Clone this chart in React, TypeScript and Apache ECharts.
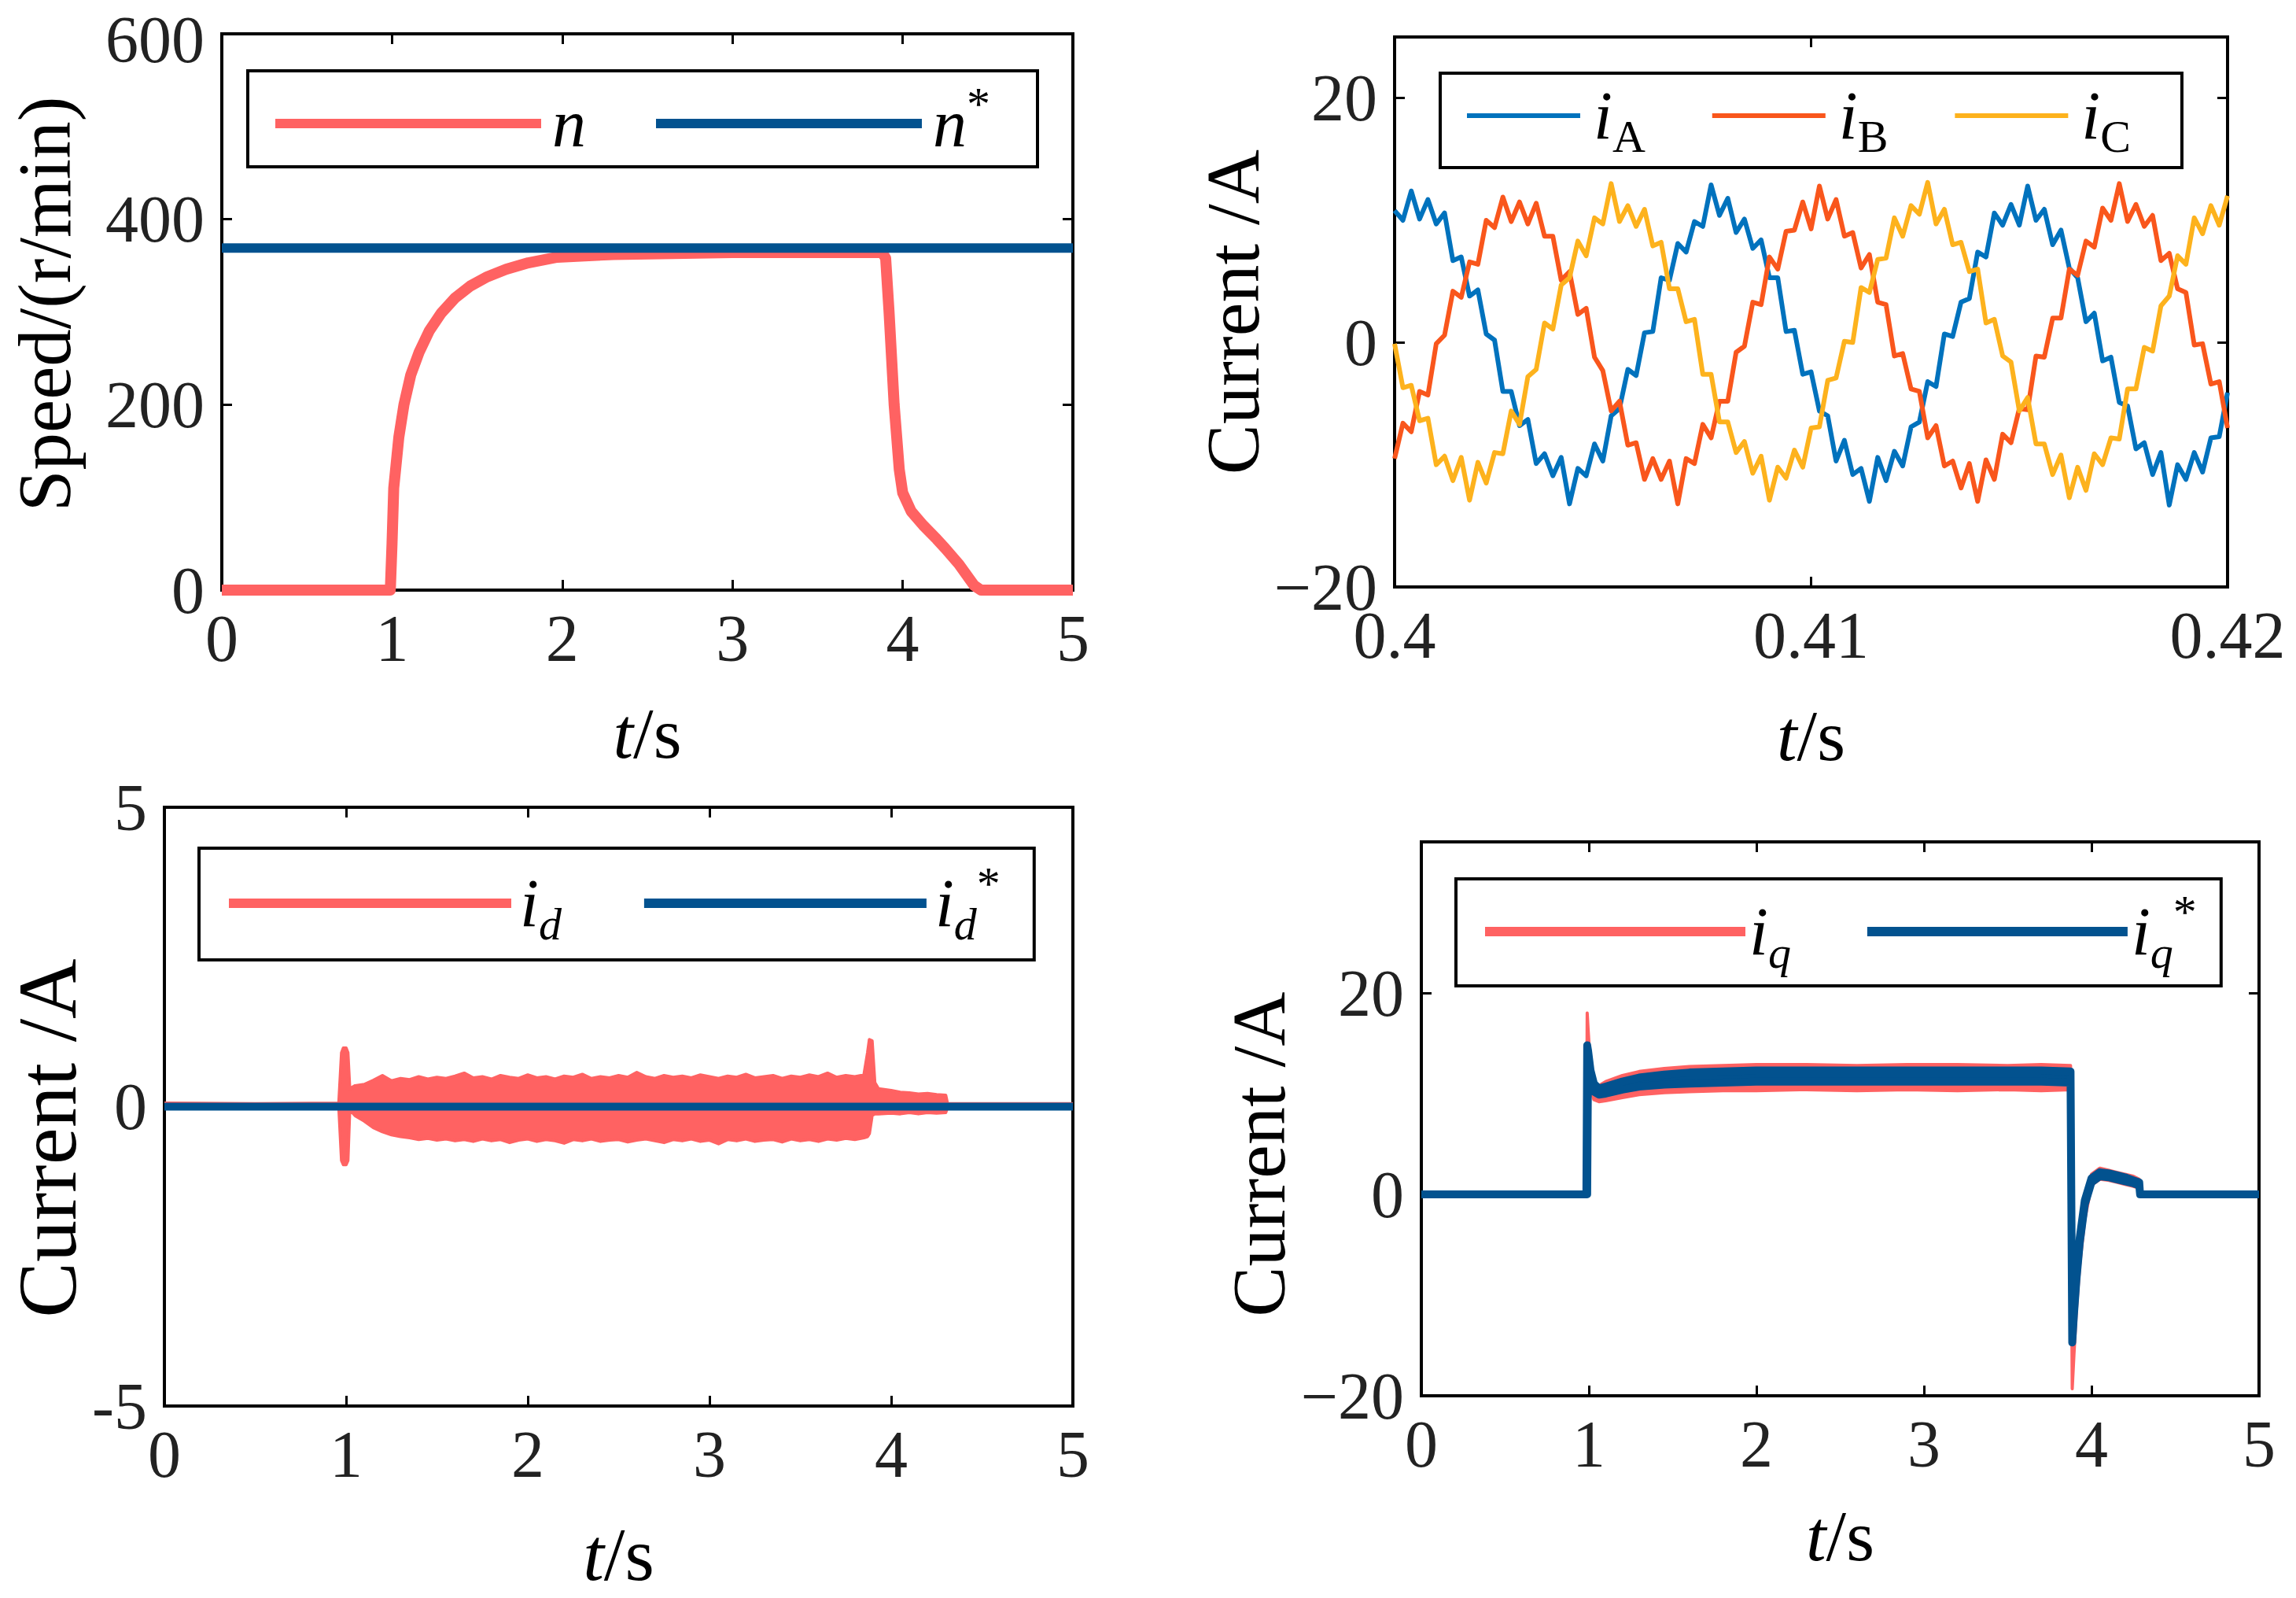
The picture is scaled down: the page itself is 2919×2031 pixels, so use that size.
import React, { useEffect, useRef } from 'react';
import * as echarts from 'echarts';

const FONT = 'Liberation Serif, serif';
const RED = '#FF6262';
const BLUE = '#02528F';
const COL_A = '#0072BD';
const COL_B = '#F9561C';
const COL_C = '#FDB21D';

// ---------- Plot 1: speed ----------
const speedT = [0, 0.5, 0.99, 1.0, 1.01, 1.04, 1.07, 1.11, 1.16, 1.22, 1.29, 1.37, 1.46, 1.56, 1.67, 1.8, 1.97, 2.3, 3.0, 3.5, 3.88, 3.9, 3.92, 3.95, 3.98, 4.0, 4.05, 4.12, 4.2, 4.25, 4.33, 4.42, 4.46, 5.0];
const speedN = [0, 0, 0, 50, 110, 165, 200, 232, 257, 280, 299, 315, 328, 338, 346, 353, 359, 362, 364, 364, 364, 358, 300, 200, 130, 105, 85, 70, 55, 45, 28, 5, 0, 0];
const speedRefT = [0, 5];
const speedRefV = [369, 369];

// ---------- Plot 2: phase currents, 0.4 s .. 0.42 s sampled every 0.2 ms ----------
const abcStart = 0.4;
const abcStep = 0.0002;
const iA = [10.8, 10.0, 12.4, 10.1, 11.7, 9.7, 10.6, 6.7, 7.0, 3.8,
  4.3, 0.7, 0.2, -4.0, -4.0, -6.8, -6.3, -9.9, -9.1, -10.9,
  -9.4, -13.2, -10.3, -10.9, -8.3, -9.7, -6.0, -5.4, -2.2, -2.7,
  0.8, 0.9, 5.3, 5.1, 8.1, 7.4, 9.9, 9.5, 12.9, 10.4,
  11.8, 9.0, 10.1, 7.7, 8.4, 5.3, 5.3, 0.9, 1.0, -2.6,
  -2.4, -5.6, -6.0, -9.7, -8.0, -10.8, -10.3, -13.0, -9.4, -11.3,
  -8.9, -10.1, -6.9, -6.5, -3.2, -3.6, 0.7, 0.5, 3.3, 3.6,
  7.4, 7.0, 10.6, 9.6, 11.3, 9.6, 12.8, 10.0, 10.9, 8.0,
  9.2, 6.1, 5.3, 1.7, 2.4, -1.5, -1.2, -4.9, -5.2, -8.7,
  -8.2, -10.8, -9.0, -13.3, -10.0, -11.2, -9.0, -10.6, -7.8, -7.7,
  -4.1];
const iB = [-9.5, -6.6, -7.3, -4.0, -4.3, -0.1, 0.6, 4.2, 3.7, 6.6,
  6.4, 10.0, 9.4, 11.9, 9.9, 11.5, 9.7, 11.4, 8.7, 8.7,
  5.1, 5.8, 2.3, 2.8, -1.2, -2.3, -5.6, -4.8, -8.4, -8.2,
  -11.2, -9.5, -11.2, -9.7, -13.2, -9.5, -9.9, -6.7, -7.8, -4.8,
  -4.8, -0.8, -0.3, 3.3, 3.1, 7.0, 6.0, 9.1, 9.2, 11.5,
  9.3, 12.8, 10.1, 11.7, 8.7, 9.0, 6.1, 7.2, 3.3, 3.1,
  -1.1, -0.9, -3.8, -4.0, -7.8, -6.8, -10.1, -9.7, -11.9, -9.9,
  -13.0, -9.6, -11.2, -7.5, -8.2, -5.4, -5.5, -1.1, -1.2, 2.0,
  2.0, 6.0, 5.5, 8.3, 7.8, 11.0, 10.0, 13.0, 9.9, 11.3,
  9.5, 10.4, 6.7, 7.3, 4.4, 4.1, -0.2, -0.1, -3.4, -3.2,
  -7.0];
const iC = [-0.1, -3.7, -3.5, -6.4, -6.2, -10.0, -9.3, -11.3, -9.4, -12.9,
  -9.8, -11.5, -9.0, -9.1, -5.6, -6.7, -2.8, -2.2, 1.6, 1.1,
  4.7, 5.3, 8.3, 7.1, 10.2, 9.7, 13.0, 9.9, 11.2, 9.5,
  10.9, 7.9, 8.2, 4.4, 4.4, 1.7, 1.9, -2.6, -2.6, -6.5,
  -6.5, -9.0, -8.1, -10.7, -9.3, -12.9, -10.2, -11.1, -8.8, -10.2,
  -7.0, -6.9, -3.1, -2.9, 0.1, 0.0, 4.5, 4.1, 6.8, 6.9,
  10.2, 8.7, 11.2, 10.5, 13.1, 9.7, 10.9, 8.0, 8.2, 5.8,
  6.0, 1.6, 1.9, -1.1, -1.6, -5.6, -4.5, -8.3, -8.3, -10.8,
  -9.2, -12.7, -10.2, -12.1, -9.1, -10.0, -7.8, -7.9, -3.8, -3.8,
  -0.4, -0.7, 3.0, 3.8, 7.1, 6.4, 10.2, 8.9, 11.2, 9.6,
  12.0];

// ---------- Plot 3: d-axis current (noise envelope) ----------
const idT = [0, 0.5, 0.96, 0.975, 0.985, 1.0, 1.01, 1.02,
  1.05, 1.1, 1.15, 1.2, 1.25, 1.3, 1.35, 1.4, 1.45, 1.5,
  1.55, 1.6, 1.65, 1.7, 1.75, 1.8, 1.85, 1.9, 1.95, 2.0,
  2.05, 2.1, 2.15, 2.2, 2.25, 2.3, 2.35, 2.4, 2.45, 2.5,
  2.55, 2.6, 2.65, 2.7, 2.75, 2.8, 2.85, 2.9, 2.95, 3.0,
  3.05, 3.1, 3.15, 3.2, 3.25, 3.3, 3.35, 3.4, 3.45, 3.5,
  3.55, 3.6, 3.65, 3.7, 3.75, 3.8, 3.85,
  3.87, 3.88, 3.895, 3.91, 3.93,
  4.0, 4.05, 4.1, 4.15, 4.2, 4.25, 4.3,
  4.31, 4.6, 5.0];
const idUp = [0.06, 0.05, 0.06, 0.9, 0.98, 0.98, 0.9, 0.3,
  0.35, 0.37, 0.44, 0.52, 0.43, 0.47, 0.45, 0.5, 0.46, 0.49,
  0.47, 0.51, 0.56, 0.48, 0.5, 0.46, 0.52, 0.49, 0.47, 0.53,
  0.48, 0.5, 0.46, 0.51, 0.49, 0.54, 0.47, 0.5, 0.48, 0.52,
  0.49, 0.57, 0.5, 0.47, 0.52, 0.49, 0.51, 0.48, 0.53, 0.5,
  0.47, 0.51, 0.49, 0.54, 0.48, 0.5, 0.52, 0.47, 0.51, 0.49,
  0.53, 0.5, 0.56, 0.49, 0.52, 0.5, 0.53,
  0.9, 1.12, 1.1, 0.4, 0.3,
  0.27, 0.24, 0.23, 0.21, 0.22, 0.2, 0.19,
  0.05, 0.05, 0.05];
const idLo = [-0.01, -0.01, -0.01, -0.9, -0.97, -0.97, -0.9, -0.05,
  -0.15, -0.24, -0.35, -0.42, -0.47, -0.5, -0.52, -0.55, -0.53, -0.56,
  -0.54, -0.57, -0.55, -0.58, -0.54, -0.57, -0.55, -0.6, -0.56, -0.54,
  -0.58, -0.55, -0.57, -0.61, -0.55, -0.57, -0.54, -0.58, -0.56, -0.55,
  -0.59, -0.56, -0.54, -0.57, -0.6, -0.55, -0.57, -0.54, -0.58, -0.56,
  -0.62, -0.55, -0.57, -0.54, -0.58, -0.56, -0.55, -0.59, -0.54, -0.57,
  -0.55, -0.58, -0.54, -0.56, -0.53, -0.55, -0.52,
  -0.5, -0.45, -0.15, -0.12, -0.12,
  -0.11, -0.12, -0.1, -0.12, -0.1, -0.11, -0.1,
  -0.01, -0.01, -0.01];
const idRefT = [0, 5];
const idRefV = [0, 0];

// ---------- Plot 4: q-axis current (envelopes) ----------
const iqT = [0, 0.985, 0.99, 0.995, 1.01, 1.03, 1.06, 1.1, 1.2, 1.3,
  1.45, 1.6, 1.8, 2.0, 2.3, 2.6, 2.9, 3.2, 3.5, 3.7,
  3.875, 3.885, 3.895, 3.91, 3.93, 3.96, 4.0, 4.05, 4.1, 4.15,
  4.2, 4.25, 4.285, 4.29, 5.0];
const iqLo = [0, 0, 0, 12, 10.5, 9.4, 9.2, 9.3, 9.6, 9.9,
  10.1, 10.2, 10.3, 10.3, 10.4, 10.3, 10.4, 10.3, 10.4, 10.3,
  10.4, -19.3, -16, -11.5, -7, -2.5, 0.9, 1.5, 1.4, 1.2,
  1.0, 0.8, 0.6, 0, 0];
const iqUp = [0, 0, 18.0, 16.5, 12.5, 11.2, 10.8, 11.2, 11.8, 12.2,
  12.5, 12.7, 12.8, 12.9, 12.9, 12.8, 12.9, 12.9, 12.8, 12.9,
  12.8, -14, -10.5, -8, -4.5, -0.5, 2.0, 2.6, 2.4, 2.2,
  2.0, 1.8, 1.5, 0.2, 0];
const iqRefLo = [0, 0, 0, 13, 11.3, 10.2, 9.9, 10.0, 10.4, 10.7,
  10.9, 11.0, 11.1, 11.2, 11.2, 11.2, 11.2, 11.2, 11.2, 11.2,
  11.1, -14.7, -12, -8.5, -4.8, -1.0, 1.2, 1.8, 1.7, 1.5,
  1.3, 1.1, 0.9, 0, 0];
const iqRefUp = [0, 0, 14.8, 14.3, 12.3, 11.0, 10.5, 10.7, 11.2, 11.6,
  11.9, 12.1, 12.2, 12.3, 12.3, 12.3, 12.3, 12.3, 12.3, 12.3,
  12.2, -14.5, -11.5, -8, -4.3, -0.6, 1.6, 2.2, 2.1, 1.9,
  1.7, 1.4, 1.2, 0, 0];

// ---------- axis scales ----------
const p1X = { min: 0, max: 5, interval: 1 };
const p1Y = { min: 0, max: 600, interval: 200 };
const p2X = { min: 0.4, max: 0.42, interval: 0.01 };
const p2Y = { min: -20, max: 25, interval: 20 };
const p3X = { min: 0, max: 5, interval: 1 };
const p3Y = { min: -5, max: 5, interval: 5 };
const p4X = { min: 0, max: 5, interval: 1 };
const p4Y = { min: -20, max: 35, interval: 20 };

const pairs = (xs: number[], ys: number[]) => xs.map((x, i) => [x, ys[i]]);
const triples = (xs: number[], lo: number[], up: number[]) => xs.map((x, i) => [x, lo[i], up[i]]);

const TICK_SIZE = 84;
const isMultiple = (v: number, step: number) => Math.abs(v / step - Math.round(v / step)) < 1e-6;
const TICK = { show: true, inside: true, length: 13, lineStyle: { color: '#000', width: 3 } };

function xAxisBottom(grid: number, sc: any, nameGap: number, nameSize: number, fmt: (v: number) => string) {
  return {
    type: 'value', gridIndex: grid, position: 'bottom', ...sc,
    axisLine: { show: false, onZero: false },
    axisTick: TICK,
    axisLabel: { show: true, margin: 26, fontFamily: FONT, fontSize: TICK_SIZE, lineHeight: 70, color: '#222', formatter: fmt },
    splitLine: { show: false },
    name: '{it|t}/s', nameLocation: 'middle', nameGap,
    nameTextStyle: { fontFamily: FONT, fontSize: nameSize, lineHeight: 80, color: '#000',
      rich: { it: { fontFamily: FONT, fontStyle: 'italic', fontSize: nameSize, lineHeight: 80, color: '#000' } } },
  };
}
function xAxisTop(grid: number, sc: any) {
  return {
    type: 'value', gridIndex: grid, position: 'top', ...sc,
    axisLine: { show: false, onZero: false },
    axisTick: TICK,
    axisLabel: { show: false }, splitLine: { show: false },
  };
}
function yAxisLeft(grid: number, sc: any, name: string, nameGap: number, nameSize: number, pad: number[], fmt: (v: number) => string, extraLabel: any = {}) {
  return {
    type: 'value', gridIndex: grid, position: 'left', ...sc,
    axisLine: { show: false, onZero: false },
    axisTick: TICK,
    axisLabel: { show: true, margin: 22, fontFamily: FONT, fontSize: TICK_SIZE, lineHeight: 70, color: '#222', formatter: fmt, ...extraLabel },
    splitLine: { show: false },
    name, nameLocation: 'middle', nameGap,
    nameTextStyle: { fontFamily: FONT, fontSize: nameSize, color: '#000', padding: pad },
  };
}
function yAxisRight(grid: number, sc: any) {
  return {
    type: 'value', gridIndex: grid, position: 'right', ...sc,
    axisLine: { show: false, onZero: false },
    axisTick: TICK,
    axisLabel: { show: false }, splitLine: { show: false },
  };
}

const plainFmt = (v: number) => String(v);
const p2XFmt = (v: number) => String(+v.toFixed(2));
const minusFmt = (step: number) => (v: number) =>
  isMultiple(v, step) ? (v < 0 ? '\u2212' + String(-v) : String(v)) : '';
const hyphenFmt = (v: number) => (v < 0 ? '-' + String(-v) : String(v));
const p1YFmt = (v: number) => (isMultiple(v, 200) ? String(v) : '');

const LEG_SIZE = 86;
const legendRich = {
  it: { fontFamily: FONT, fontStyle: 'italic', fontSize: LEG_SIZE, lineHeight: 110, color: '#000' },
  sub: { fontFamily: FONT, fontSize: 58, lineHeight: 80, verticalAlign: 'bottom', color: '#000' },
  subit: { fontFamily: FONT, fontStyle: 'italic', fontSize: 58, lineHeight: 80, verticalAlign: 'bottom', color: '#000' },
  sup: { fontFamily: FONT, fontSize: 60, lineHeight: 50, verticalAlign: 'top', color: '#000' },
  sp6: { width: 6, fontSize: 20 },
  sp9: { width: 9, fontSize: 20 },
  sp12: { width: 12, fontSize: 20 },
};
const LEG_TEXT: Record<string, string> = {
  'n': '{sp9| }{it|n}',
  'n*': '{sp9| }{it|n}{sup|*}',
  'iA': '{sp12| }{it|i}{sub|A}',
  'iB': '{sp12| }{it|i}{sub|B}',
  'iC': '{sp12| }{it|i}{sub|C}',
  'id': '{sp6| }{it|i}{subit|d}',
  'id*': '{sp6| }{it|i}{subit|d}{sup|*}',
  'iq': '{it|i}{subit|q}',
  'iq*': '{it|i}{subit|q}{sup|*}',
};

function legend(names: string[], colors: string[], left: number, top: number, itemWidth: number, itemHeight: number, itemGap: number, padding: number[]) {
  return {
    show: true, orient: 'horizontal', left, top, itemWidth, itemHeight, itemGap, padding,
    icon: 'rect', selectedMode: false,
    borderColor: '#000', borderWidth: 4, backgroundColor: '#fff',
    itemStyle: { borderWidth: 0 },
    data: names.map((n, i) => ({ name: n, itemStyle: { color: colors[i], borderWidth: 0 } })),
    formatter: (name: string) => LEG_TEXT[name] || name,
    textStyle: { fontFamily: FONT, fontSize: LEG_SIZE, color: '#000', rich: legendRich },
  };
}

function line(name: string, xi: number, data: any[], color: string, width: number) {
  return {
    type: 'line', name, xAxisIndex: xi, yAxisIndex: xi, data, symbol: 'none', showSymbol: false,
    lineStyle: { color, width, cap: 'butt', join: 'round' }, itemStyle: { color },
    emphasis: { disabled: true }, silent: true,
  };
}

// Envelope band: a polygon between the lower and upper envelope, placed with the axes' own scales.
function band(name: string, xi: number, ts: number[], lo: number[], up: number[], color: string, stroke: number) {
  return {
    type: 'custom', name, xAxisIndex: xi, yAxisIndex: xi, clip: true, silent: true,
    data: triples(ts, lo, up),
    encode: { x: 0, y: [1, 2] },
    itemStyle: { color },
    renderItem: (params: any, api: any) => {
      if (params.dataIndex !== 0) return null;
      const top = ts.map((t, i) => api.coord([t, up[i]]));
      const bottom = ts.map((t, i) => api.coord([t, lo[i]])).reverse();
      return {
        type: 'polygon',
        shape: { points: top.concat(bottom) },
        style: { fill: color, stroke: color, lineWidth: stroke, lineJoin: 'round' },
      };
    },
  };
}

const abcT = iA.map((_, k) => +(abcStart + k * abcStep).toFixed(4));

const option: any = {
  animation: false,
  backgroundColor: '#fff',
  grid: [
    { left: 282, top: 43, width: 1082, height: 707 },
    { left: 1773, top: 47, width: 1059, height: 699 },
    { left: 209, top: 1026, width: 1155, height: 761 },
    { left: 1807, top: 1070, width: 1065, height: 704 },
  ].map((g) => ({ ...g, show: true, borderColor: '#000', borderWidth: 4, backgroundColor: 'transparent', containLabel: false })),
  xAxis: [
    xAxisBottom(0, p1X, 142, 92, plainFmt),
    xAxisBottom(1, p2X, 149, 92, p2XFmt),
    xAxisBottom(2, p3X, 148, 96, plainFmt),
    xAxisBottom(3, p4X, 138, 92, plainFmt),
    xAxisTop(0, p1X), xAxisTop(1, p2X), xAxisTop(2, p3X), xAxisTop(3, p4X),
  ],
  yAxis: [
    yAxisLeft(0, p1Y, 'Speed/(r/min)', 178, 95, [0, 0, 0, 20], p1YFmt, { lineHeight: 14, verticalAlignMaxLabel: 'top' }),
    yAxisLeft(1, p2Y, 'Current /A', 118, 96, [0, 0, 0, 0], minusFmt(20)),
    yAxisLeft(2, p3Y, 'Current /A', 85, 106, [0, 80, 0, 0], hyphenFmt),
    yAxisLeft(3, p4Y, 'Current /A', 159, 96, [0, 90, 0, 0], minusFmt(20)),
    yAxisRight(0, p1Y), yAxisRight(1, p2Y), yAxisRight(2, p3Y), yAxisRight(3, p4Y),
  ],
  legend: [
    legend(['n', 'n*'], [RED, BLUE], 315, 90, 338, 12, 89, [12, 60, 12, 35]),
    legend(['iA', 'iB', 'iC'], [COL_A, COL_B, COL_C], 1831, 93, 144, 6, 85, [11, 65, 11, 34]),
    legend(['id', 'id*'], [RED, BLUE], 253, 1078, 359, 12, 105, [15, 43, 17, 38]),
    legend(['iq', 'iq*'], [RED, BLUE], 1851, 1117, 331, 12, 97, [12, 31, 14, 37]),
  ],
  series: [
    line('n', 0, pairs(speedT, speedN), RED, 14),
    line('n*', 0, pairs(speedRefT, speedRefV), BLUE, 12),

    line('iA', 1, pairs(abcT, iA), COL_A, 6),
    line('iB', 1, pairs(abcT, iB), COL_B, 6),
    line('iC', 1, pairs(abcT, iC), COL_C, 6),

    band('id', 2, idT, idLo, idUp, RED, 4),
    line('id*', 2, pairs(idRefT, idRefV), BLUE, 10),

    band('iq', 3, iqT, iqLo, iqUp, RED, 4),
    band('iq*', 3, iqT, iqRefLo, iqRefUp, BLUE, 10),
  ],
};

export default function App() {
  const ref = useRef<HTMLDivElement>(null);
  useEffect(() => {
    if (!ref.current) return;
    const chart = echarts.init(ref.current, null, { renderer: 'svg' });
    chart.setOption(option);
    return () => chart.dispose();
  }, []);
  return (
    <div
      ref={ref}
      style={{ position: 'fixed', left: 0, top: 0, width: 2919, height: 2031, background: '#fff' }}
    />
  );
}
